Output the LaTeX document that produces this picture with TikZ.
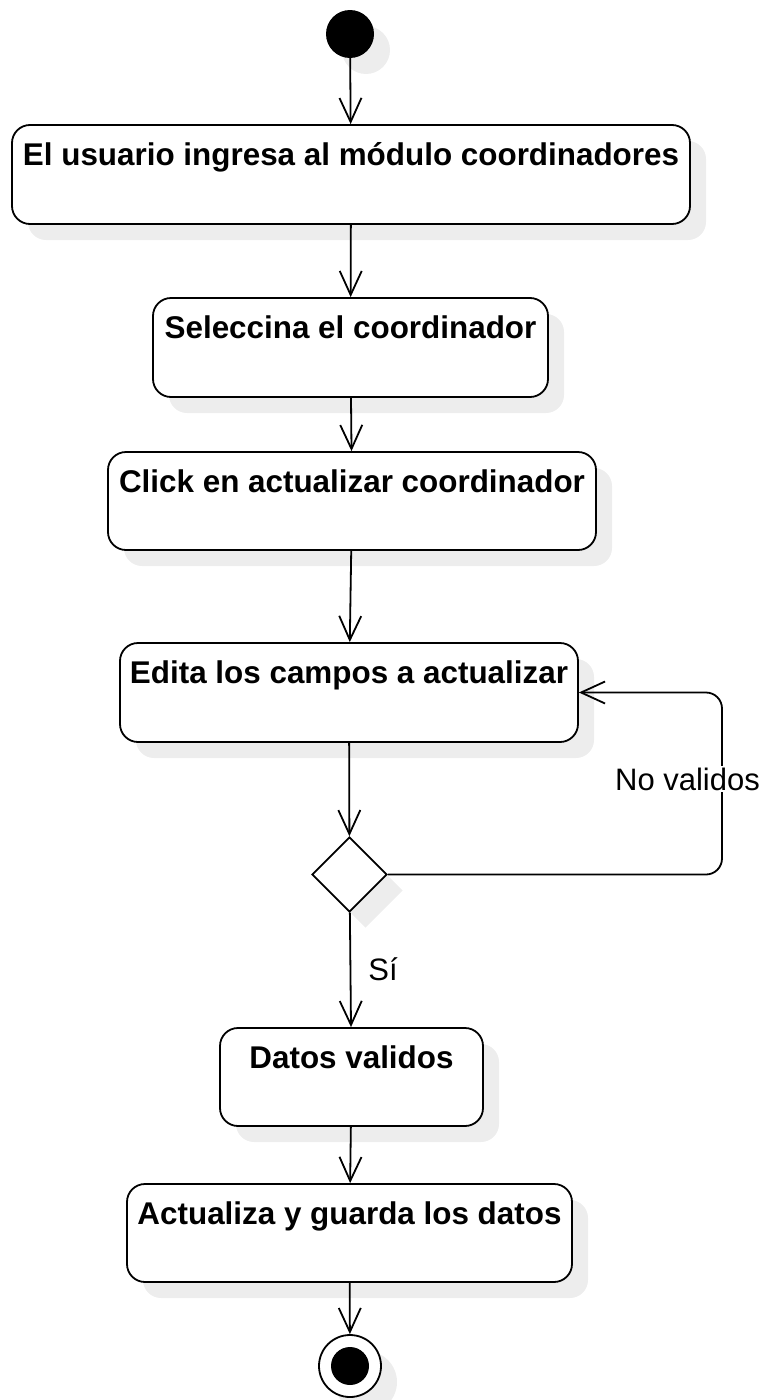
\documentclass[tikz,border=0pt]{standalone}
\usepackage{fontspec}
\setmainfont{Liberation Sans}
\usetikzlibrary{arrows.meta,shapes.geometric,shadows}
\begin{document}
\begin{tikzpicture}[x=1pt,y=-1pt,
  shad/.style={drop shadow={shadow xshift=16pt,shadow yshift=-16pt,fill=black!7,opacity=1}},
  box/.style={draw,line width=1.8pt,rounded corners=18pt,fill=white,inner sep=0pt,shad},
  btxt/.style={anchor=base,inner sep=0pt,font=\fontsize{31.4}{37}\selectfont\bfseries},
  ltxt/.style={anchor=base,inner sep=2pt,font=\fontsize{31}{37}\selectfont},
  arr/.style={line width=1.8pt,-{Straight Barb[length=24pt,width=22pt,line width=1.8pt]}}]
\useasboundingbox (0,0) rectangle (766,1400);
% start
\node[circle,fill=black,minimum size=48pt,inner sep=0pt,shad] (s) at (350,34) {};
% boxes
\node[box,minimum width=678pt,minimum height=99pt] (b1) at (351,174.5) {};
\node[btxt] (t1) at (351,165) {El usuario ingresa al módulo coordinadores};
\node[box,minimum width=395pt,minimum height=99pt] (b2) at (350.5,347.5) {};
\node[btxt] (t2) at (350.5,338) {Seleccina el coordinador};
\node[box,minimum width=488pt,minimum height=98pt] (b3) at (352,501) {};
\node[btxt] (t3) at (352,492) {Click en actualizar coordinador};
\node[box,minimum width=458pt,minimum height=99pt] (b4) at (349,692.5) {};
\node[btxt] (t4) at (349,683) {Edita los campos a actualizar};
\node[diamond,draw,line width=1.8pt,fill=white,minimum width=75pt,minimum height=75pt,inner sep=0pt,shad] (d) at (349.5,874.5) {};
\node[box,minimum width=263pt,minimum height=98pt] (b5) at (351.5,1077) {};
\node[btxt] (t5) at (351.5,1068) {Datos validos};
\node[box,minimum width=445pt,minimum height=98pt] (b6) at (349.5,1233) {};
\node[btxt] (t6) at (349.5,1224) {Actualiza y guarda los datos};
% end
\node[circle,draw,line width=1.8pt,fill=white,minimum size=62pt,inner sep=0pt,shad] (e) at (350,1366) {};
\node[circle,fill=black,minimum size=38pt,inner sep=0pt] (ei) at (e) {};
% connectors
\draw[arr] (s) -- (b1);
\draw[arr] (b1) -- (b2);
\draw[arr] (b2) -- (b3);
\draw[arr] (b3) -- (b4);
\draw[arr] (b4) -- (d);
\draw[arr] (d) -- (b5);
\draw[arr] (b5) -- (b6);
\draw[arr] (b6) -- (e);
\coordinate (lx) at (722,0);
\draw[arr,rounded corners=16pt] (d.east) -- (d.east -| lx) |- (b4.east);
\node[ltxt,fill=white] (nv) at (687.5,790) {No validos};
\node[ltxt] (si) at (383,980) {Sí};
\end{tikzpicture}
\end{document}
